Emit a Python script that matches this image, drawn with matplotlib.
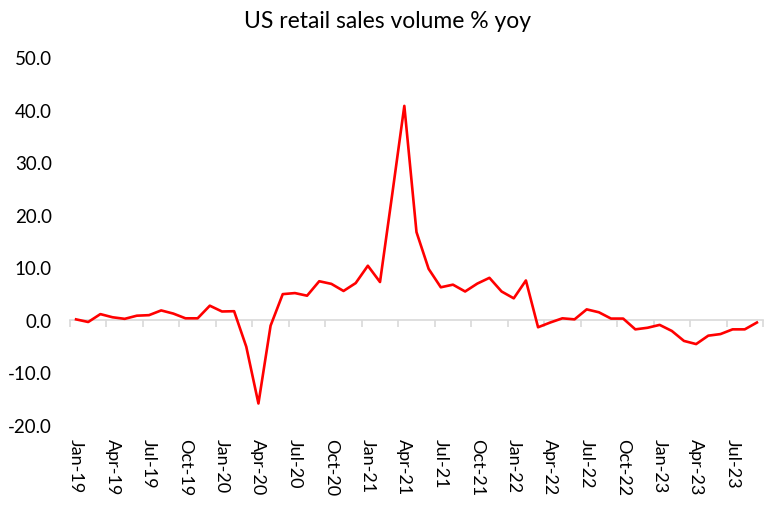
import matplotlib
matplotlib.use("Agg")
import matplotlib.pyplot as plt
import numpy as np

plt.rcParams['font.family'] = ['Lato', 'DejaVu Sans']

# monthly, Jan-19 .. Sep-23
months = ['Jan', 'Feb', 'Mar', 'Apr', 'May', 'Jun', 'Jul', 'Aug', 'Sep', 'Oct', 'Nov', 'Dec']
dates = [f"{m}-{y}" for y in range(19, 24) for m in months][:57]

yoy = [0.1, -0.4, 1.1, 0.5, 0.2, 0.8, 0.9, 1.8, 1.2, 0.3, 0.3, 2.7,
       1.6, 1.65, -5.1, -15.9, -1.1, 4.9, 5.1, 4.6, 7.35, 6.85, 5.5, 7.0,
       10.3, 7.2, 23.8, 40.7, 16.7, 9.7, 6.2, 6.7, 5.4, 6.9, 8.0, 5.4,
       4.1, 7.5, -1.4, -0.5, 0.3, 0.1, 2.0, 1.45, 0.25, 0.25, -1.8, -1.5,
       -0.95, -2.1, -4.0, -4.6, -3.0, -2.7, -1.8, -1.8, -0.5]

yticks = [-20, -10, 0, 10, 20, 30, 40, 50]

fig = plt.figure(figsize=(7.75, 5.06), dpi=100)
ax = fig.add_axes([0.0903, 0.158, 0.8942, 0.7274])

x = np.arange(len(yoy))
ax.plot(x, yoy, color='#ff0000', lw=1.9, zorder=3)

ax.set_xlim(-0.5, len(yoy) - 0.5)
ax.set_ylim(-20, 50)
ax.set_yticks(yticks)
ax.set_yticklabels([f"{v:.1f}" for v in yticks], fontsize=13.5)
ax.tick_params(axis='y', length=0, pad=13)

for s in ['top', 'right', 'left']:
    ax.spines[s].set_visible(False)
ax.spines['bottom'].set_position(('data', 0))
ax.spines['bottom'].set_color('#d9d9d9')
ax.spines['bottom'].set_linewidth(1.2)

# tick marks between categories on the zero line
ax.set_xticks(np.arange(-0.5, len(yoy), 3))
ax.set_xticklabels([])
ax.tick_params(axis='x', length=5, width=1.2, color='#d9d9d9', direction='out')

# category labels at the bottom
sec = ax.secondary_xaxis(0)
lab_idx = np.arange(0, len(yoy), 3)
sec.set_xticks(lab_idx)
sec.set_xticklabels([dates[i] for i in lab_idx], rotation=270, fontsize=13)
sec.tick_params(length=0, pad=9)
sec.spines['bottom'].set_visible(False)

fig.text(0.5, 0.957, 'US retail sales volume % yoy', ha='center', va='center', fontsize=16.5)

fig.savefig('out.png', dpi=100)
